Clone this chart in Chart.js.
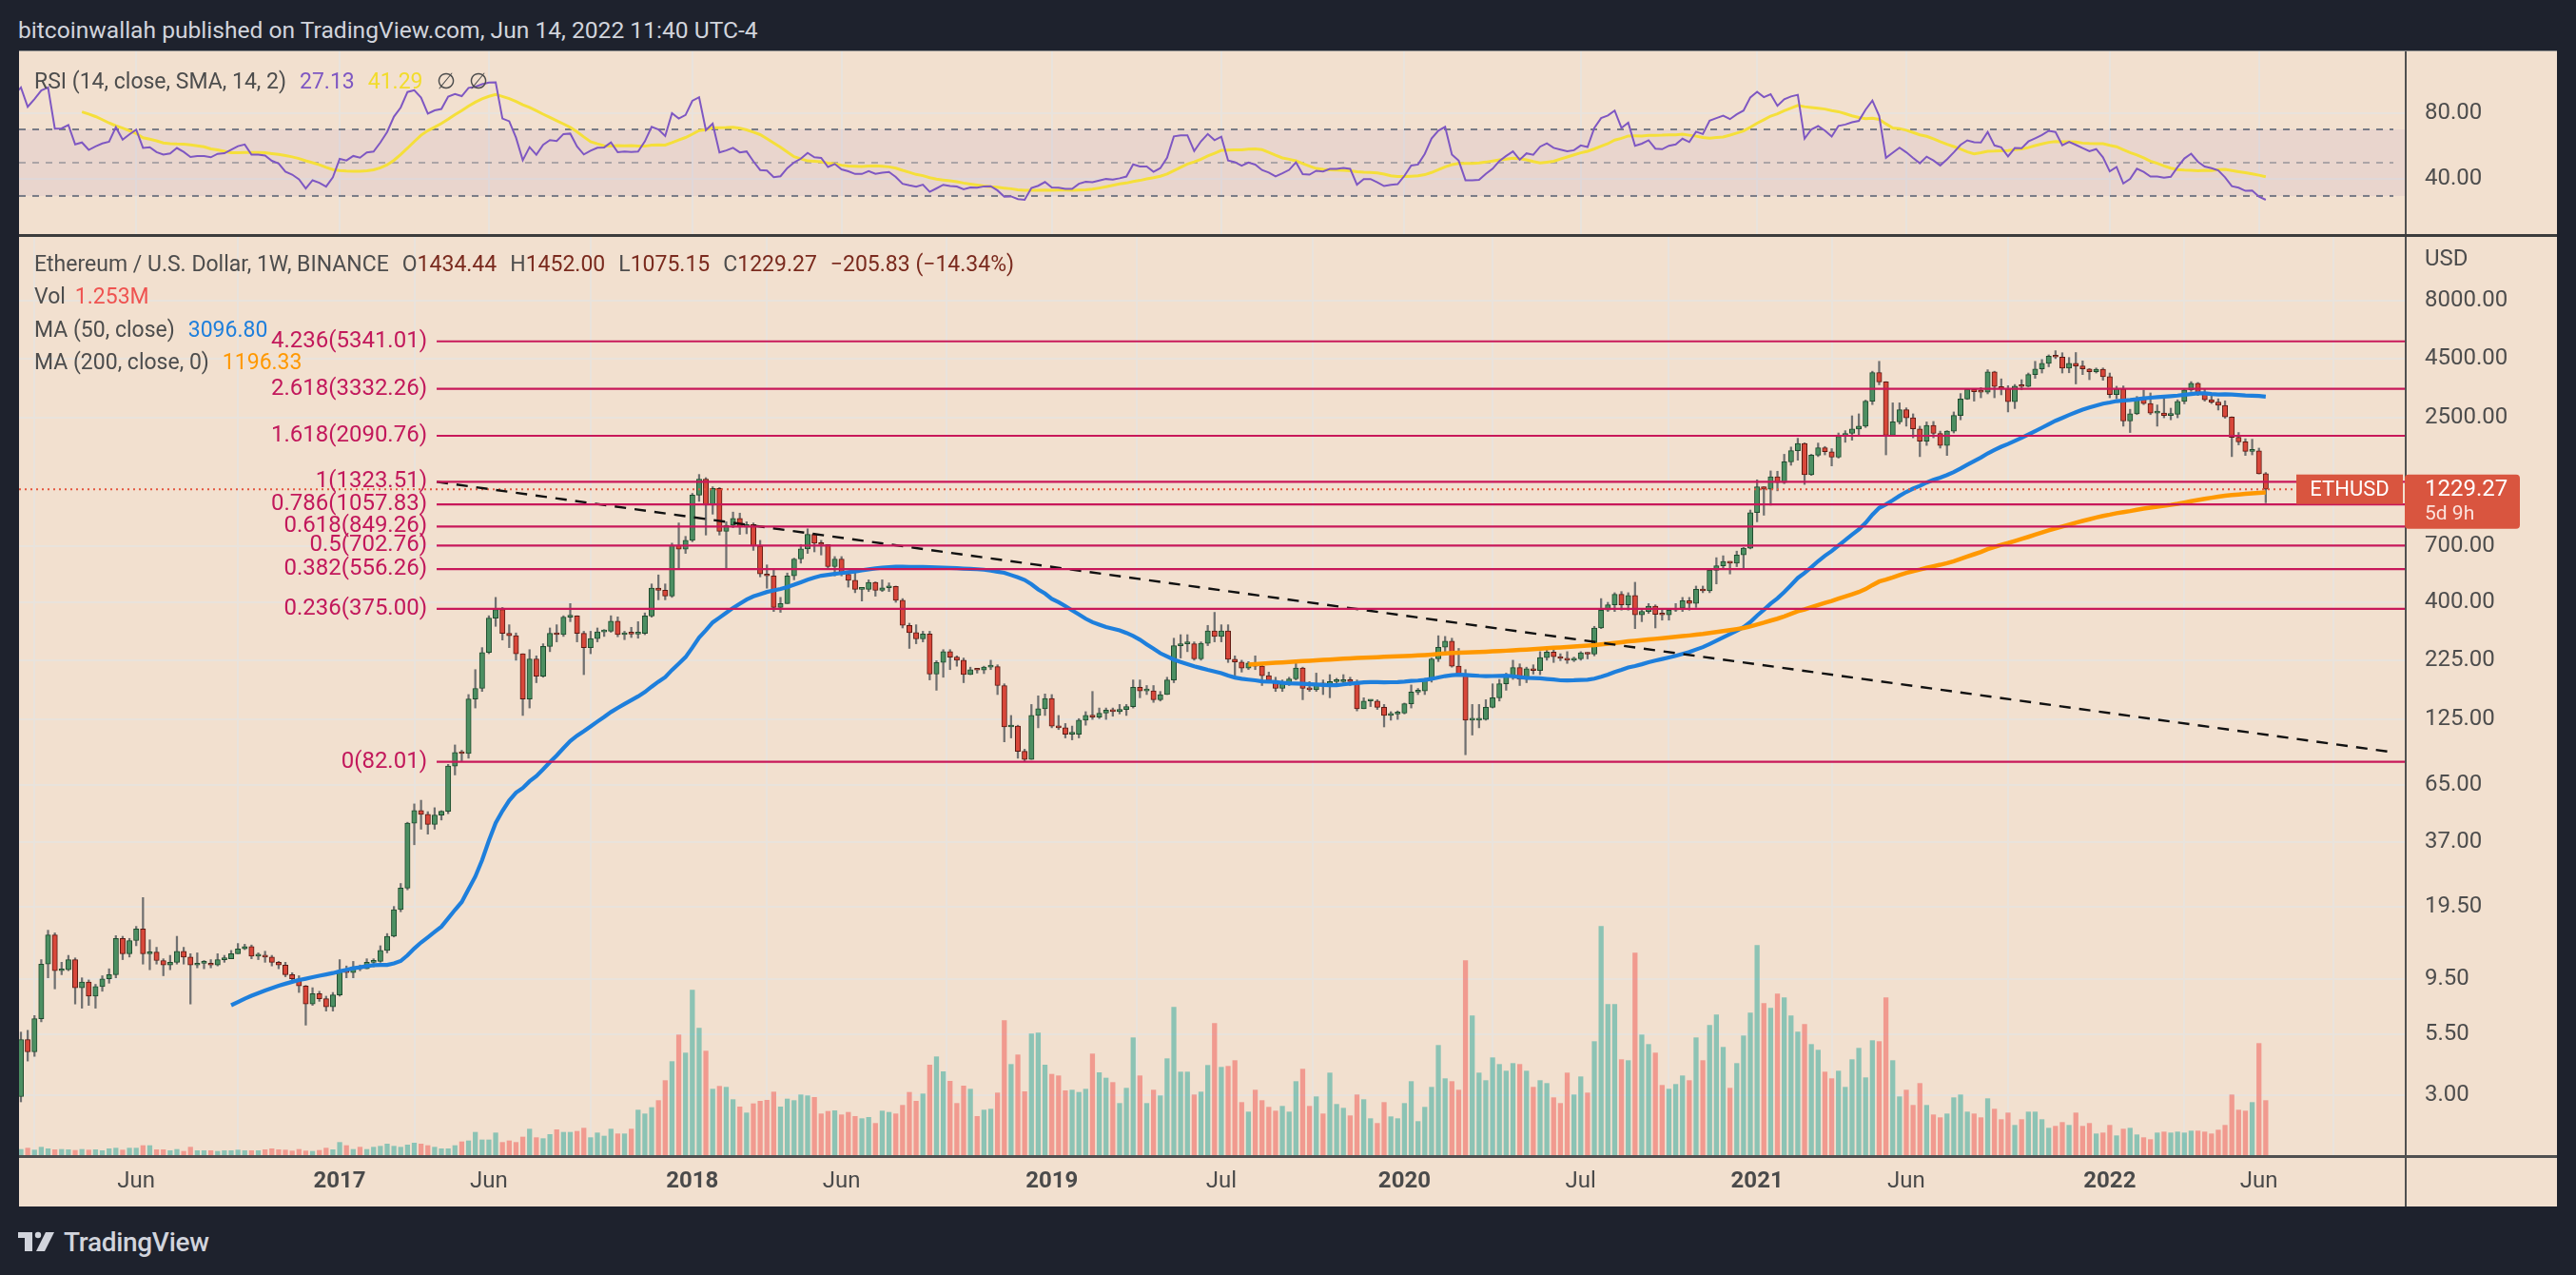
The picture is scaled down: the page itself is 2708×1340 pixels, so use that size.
<!DOCTYPE html>
<html>
<head>
<meta charset="utf-8">
<script src="https://cdn.jsdelivr.net/npm/chart.js@4.4.0/dist/chart.umd.min.js"></script>
<style>
html,body{margin:0;padding:0;background:#1e222d;width:2708px;height:1340px;overflow:hidden;font-family:Roboto,"Noto Sans",sans-serif;}
#title{position:absolute;left:19px;top:16px;height:32px;line-height:32px;color:#d1d4dc;font-size:24.6px;white-space:nowrap;}
#rsiWrap{position:absolute;left:20px;top:54px;width:2668px;height:192px;background:#f2e0cf;}
#topline{position:absolute;left:20px;top:53px;width:2668px;height:1px;background:#8c8c8c;}
#sep{position:absolute;left:20px;top:246px;width:2668px;height:3px;background:#3c3c3c;}
#mainWrap{position:absolute;left:20px;top:249px;width:2668px;height:1019px;background:#f2e0cf;}
#footer{position:absolute;left:19px;top:1290px;height:30px;display:flex;align-items:center;color:#d1d4dc;}
#footer span{font-size:28px;font-weight:500;margin-left:8px;letter-spacing:-0.3px;}
canvas{display:block;}
</style>
</head>
<body>
<div id="title">bitcoinwallah published on TradingView.com, Jun 14, 2022 11:40 UTC-4</div>
<div id="topline"></div>
<div id="rsiWrap"><canvas id="rsi"></canvas></div>
<div id="sep"></div>
<div id="mainWrap"><canvas id="main"></canvas></div>
<div id="footer">
<svg width="40" height="22" viewBox="0 0 40 22"><rect x="0" y="1" width="15" height="6" fill="#d1d4dc"/><rect x="7" y="1" width="8" height="20" fill="#d1d4dc"/><circle cx="21" cy="4" r="3.2" fill="#d1d4dc"/><polygon points="29,1 38,1 28,21 19,21" fill="#d1d4dc"/></svg>
<span>TradingView</span>
</div>
<script>
// ---------------- DATA (weekly ETH/USD, week index 0 = week of 8 Feb 2016) ----------------
const firstWeek = -18;          // data starts week of 5 Oct 2015
const firstOpen = 0.65;
const closes = [
0.62,0.55,0.56,1.00,0.93,0.90,0.95,0.87,0.83,0.86,0.86,0.85,0.94,0.96,1.23,1.55,2.30,2.95,
5.2,4.6,6.4,11.0,14.7,10.3,10.4,11.5,8.7,9.2,
8.0,8.8,9.5,9.9,14.2,12.2,13.9,15.6,12.2,12.4,
11.4,10.9,11.2,12.5,11.8,10.9,11.1,11.1,10.9,11.5,
11.6,12.2,12.8,13.1,11.9,11.9,11.8,11.2,10.9,9.9,
9.5,8.85,7.4,8.2,7.8,7.2,8.1,10.3,10.1,10.7,
10.5,11.2,11.3,12.6,14.5,18.9,23.4,44.6,50.6,48.7,
44.1,48.3,50.2,78.6,90,89,153,170,243,342,
372,294,287,240,153,228,192,258,294,290,
345,349,294,255,279,298,300,332,290,294,
292,294,349,461,451,426,705,678,740,1160,
1360,1050,1240,810,860,920,845,865,700,530,
520,380,395,520,615,680,785,720,710,570,
615,528,498,455,455,487,450,462,468,408,
318,296,278,292,196,220,245,232,225,195,
205,204,210,211,175,116,117,91,84,130,
139,154,117,115,108,108,124,130,128,133,
137,135,138,142,172,166,166,152,160,185,
260,265,265,228,266,301,285,301,227,221,
208,219,212,193,184,170,178,187,208,170,
168,178,176,182,182,184,182,139,150,150,
141,130,132,133,146,164,166,187,228,256,
272,212,195,124,124,125,141,155,178,194,
209,186,207,203,231,244,233,229,225,228,
242,239,310,370,390,433,390,428,353,365,
385,355,353,370,377,406,396,455,448,550,
575,600,590,640,685,975,1260,1230,1390,1315,
1615,1805,1935,1420,1725,1855,1785,1690,2080,2140,
2235,2300,2950,3920,3570,2100,2400,2710,2500,2240,
1980,2320,2140,1900,2190,2560,3010,3310,3240,3225,
3940,3410,3330,2930,3420,3410,3840,4060,4290,4610,
4570,4090,4290,4180,4060,3950,4050,3760,3150,3330,
2420,2600,3050,2880,2620,2620,2560,2590,2940,3300,
3520,3200,2990,2920,2830,2520,2060,1970,1790,1800,1434.44,1229.27
];
const highs = [
0.68,0.64,0.60,1.05,1.10,0.98,0.99,0.96,0.88,0.90,0.90,0.89,0.96,1.00,1.30,1.65,2.60,3.00,
5.6,5.7,6.6,11.5,15.4,15.0,11.2,12.0,11.7,9.6,
9.4,9.0,9.8,10.5,14.6,14.5,14.2,16.0,21.3,14.0,
13.0,11.6,12.0,14.5,13.0,12.2,12.3,11.4,11.5,12.2,
12.0,12.6,13.5,13.4,13.3,12.3,12.5,12.0,11.3,11.2,
10.1,9.8,8.9,8.7,8.4,8.0,8.3,11.5,10.8,11.3,
10.9,11.6,11.6,13.2,14.9,19.5,24.5,45,54,56,
50,52,50.5,80,97,92,160,205,255,350,
420,380,320,295,240,250,235,265,310,320,
350,395,350,300,300,310,305,350,346,300,
312,330,360,480,525,480,720,880,770,1180,
1424,1380,1260,1250,890,980,970,890,880,740,
580,560,420,535,620,710,830,790,740,710,
630,630,530,540,460,500,490,500,485,470,
415,325,320,300,300,224,250,250,235,230,
210,207,212,225,215,178,130,118,93,145,
158,161,160,130,120,117,126,135,165,140,
140,140,145,145,185,185,175,175,165,190,
280,290,290,270,270,318,362,320,320,235,
225,222,235,215,200,190,185,190,225,210,
182,198,185,195,188,195,190,185,155,152,
152,145,135,136,147,176,170,188,230,287,
285,280,253,205,145,145,152,178,186,198,
225,217,210,215,245,252,250,240,245,232,
245,243,315,415,400,440,445,440,488,375,
395,390,370,372,395,420,420,470,470,560,
623,635,600,665,690,1000,1350,1260,1475,1470,
1740,1870,2040,1950,1740,1945,1880,1840,2150,2200,
2550,2600,2980,3970,4380,3580,2900,2900,2760,2600,
2300,2400,2410,2190,2200,2650,3180,3330,3335,3375,
4030,3970,3680,3440,3480,3650,3900,4380,4460,4670,
4868,4770,4550,4780,4400,4080,4100,4100,3900,3420,
3430,2720,3090,3290,3200,2840,3040,2750,2990,3320,
3580,3550,3310,3170,3020,2960,2525,2160,2030,2020,1850,1452
];
const lows = [
0.60,0.52,0.42,0.55,0.85,0.86,0.88,0.85,0.80,0.82,0.83,0.82,0.83,0.93,0.95,1.20,1.50,2.15,
2.8,4.2,4.4,6.2,9.6,8.6,9.9,10.3,7.4,7.1,
7.3,7.1,8.4,9.1,9.6,11.5,11.8,13.2,11.0,10.4,
11.0,9.8,10.4,11.0,11.0,7.4,10.6,10.5,10.6,10.8,
11.2,11.6,12.2,12.7,11.6,11.5,11.2,10.8,10.5,9.7,
9.2,8.3,6.0,7.3,7.6,6.9,6.9,8.0,9.6,9.6,
10.3,10.5,10.7,11.2,12.3,14.4,18.5,23,36,42,
40,42,46,49,72,82,85,140,165,240,
315,275,255,225,130,140,180,190,245,270,
285,330,270,195,240,270,285,297,284,276,
282,280,290,345,410,410,420,560,650,730,
1090,780,960,780,555,840,785,790,670,515,
460,365,362,395,500,590,650,660,640,560,
520,520,465,440,405,445,425,445,445,400,
310,253,265,270,185,167,190,205,212,180,
195,198,197,205,160,100,104,85,82,84,
115,130,115,113,104,102,104,118,125,126,
125,129,132,130,140,155,160,148,150,160,
180,230,245,225,225,260,270,270,220,190,
200,205,205,175,180,165,165,175,185,152,
165,165,160,155,176,180,175,136,140,142,
138,116,124,125,132,140,160,160,181,222,
240,210,192,88,107,115,124,140,150,167,
186,175,180,196,195,225,220,224,218,222,
225,228,235,308,365,365,370,370,308,330,
358,310,335,335,365,365,370,380,440,440,
480,560,530,570,560,680,890,950,1050,1210,
1300,1560,1640,1290,1410,1700,1730,1550,1675,1960,
2000,2100,2270,2850,3470,1730,2160,2350,2300,2050,
1700,1900,2050,1850,1720,2150,2450,3000,2950,3050,
3170,3050,3140,2650,2740,3300,3400,3700,3900,4150,
4500,3900,3910,3500,3840,3650,3900,3630,3050,3020,
2300,2160,2580,2850,2580,2300,2500,2450,2500,2870,
3250,3120,2950,2880,2700,2490,1700,1910,1720,1730,1430,1075.15
];
// relative weekly volume (read as bar heights), week 0 .. 331
const volumes = [
18,22,16,25,20,17,18,17,15,18,
16,17,14,20,22,16,22,22,30,30,
17,17,14,18,12,25,14,14,14,12,
14,14,16,14,14,14,17,20,17,16,
13,18,13,12,15,22,17,40,30,18,
25,18,25,28,35,28,25,32,38,35,
30,25,20,20,30,42,45,72,48,48,
70,40,45,40,57,82,55,52,65,80,
72,72,75,85,55,70,60,82,67,67,
82,142,130,150,172,235,295,379,322,520,
400,328,208,217,214,175,152,133,162,170,
173,199,152,177,172,190,187,182,130,138,
140,127,135,122,115,119,100,139,135,130,
157,198,170,193,284,310,263,233,163,218,
208,122,142,145,196,424,286,316,200,382,
385,284,255,250,203,205,198,208,319,260,
243,229,163,211,370,250,163,205,187,304,
466,262,262,190,199,283,415,277,280,298,
166,136,205,172,151,139,154,136,232,271,
154,184,130,259,160,148,124,190,175,115,
100,166,121,115,163,232,106,151,214,346,
241,232,205,613,439,259,235,307,286,265,
289,286,265,214,235,226,181,163,259,190,
247,196,358,721,475,475,301,298,637,379,
349,322,220,208,223,250,235,370,298,409,
442,340,211,289,376,448,661,478,463,508,
496,439,388,412,349,331,262,241,265,214,
301,337,244,361,358,496,298,184,205,157,
226,157,127,118,130,181,190,136,130,118,
178,145,112,133,94,112,136,136,112,85,
91,103,94,133,91,100,67,70,94,61,
82,85,64,55,49,70,73,70,73,70,
76,76,73,67,79,94,190,142,139,166,352,172
];
const tickWeeks  = [17,47,69,99,121,152,177,204,230,256,278,308,330];
const tickLabels = ['Jun','2017','Jun','2018','Jun','2019','Jul','2020','Jul','2021','Jun','2022','Jun'];
const priceTicks = [3,5.5,9.5,19.5,37,65,125,225,400,700,2500,4500,8000];
const rsiTicks = [40,80];
const rsiLevels = [30,50,70];
const fibRatios = [0,0.236,0.382,0.5,0.618,0.786,1,1.618,2.618,4.236];
const fibPrices = [82.01,375.00,556.26,702.76,849.26,1057.83,1323.51,2090.76,3332.26,5341.01];
const fibStartWeek = 61.3;
const trendWeeks = [61.3, 350];
const trendPrices = [1323.51, 90];
const lastPrice = 1229.27;
const legendOHLC = {O:'1434.44', H:'1452.00', L:'1075.15', C:'1229.27', chg:'\u2212205.83 (\u221214.34%)'};
const legendVol = '1.253M';
const legendMA50 = '3096.80';
const legendMA200 = '1196.33';
const legendRSI = '27.13';
const legendRSIMA = '41.29';

// ---------------- view settings ----------------
const X_MIN = -0.28, X_MAX = 351.5;
const Y_MIN = 1.65, Y_MAX = 15070;
const RSI_MIN = 7.1, RSI_MAX = 116.9;
const VOL_MAX = 2895;
const AXIS_W = 160;
const FONT = 'Roboto, "Noto Sans", sans-serif';

// ---------------- derived series ----------------
const N = closes.length;
const weeks = closes.map((_, i) => i + firstWeek);
const opens = closes.map((c, i) => i === 0 ? firstOpen : closes[i - 1]);
function sma(arr, n) {
  return arr.map((_, i) => {
    if (i < n - 1) return null;
    let s = 0;
    for (let j = i - n + 1; j <= i; j++) { if (arr[j] == null) return null; s += arr[j]; }
    return s / n;
  });
}
function rsiCalc(c, n) {
  const out = new Array(c.length).fill(null);
  let au = 0, ad = 0;
  for (let i = 1; i < c.length; i++) {
    const ch = c[i] - c[i - 1];
    const u = Math.max(ch, 0), d = Math.max(-ch, 0);
    if (i <= n) {
      au += u; ad += d;
      if (i === n) { au /= n; ad /= n; out[i] = ad === 0 ? 100 : 100 - 100 / (1 + au / ad); }
    } else {
      au = (au * (n - 1) + u) / n; ad = (ad * (n - 1) + d) / n;
      out[i] = ad === 0 ? 100 : 100 - 100 / (1 + au / ad);
    }
  }
  return out;
}
const ma50 = sma(closes, 50);
const ma200 = sma(closes, 200);
const rsi = rsiCalc(closes, 14);
const rsiMa = sma(rsi, 14);

const bodies = [], wicks = [], bodyFill = [], bodyBorder = [], vols = [], volColors = [];
for (let i = 0; i < N; i++) {
  const k = weeks[i];
  if (k < 0) continue;
  const o = opens[i], c = closes[i];
  const h = Math.max(highs[i], o, c), l = Math.min(lows[i], o, c);
  const up = c >= o;
  bodies.push({x: k, y: [o, c]});
  wicks.push({x: k, y: [l, h]});
  bodyFill.push(up ? '#4c8f62' : '#d8473a');
  bodyBorder.push(up ? '#1e4b2d' : '#5c1a12');
  vols.push({x: k, y: volumes[k]});
  volColors.push(up ? 'rgba(38,166,154,0.5)' : 'rgba(239,83,80,0.5)');
}
const toXY = arr => arr.map((v, i) => ({x: weeks[i], y: v})).filter(p => p.y != null);

const gridColor = '#e9e3dc';
function xScale(showLabels) {
  return {
    type: 'linear', min: X_MIN, max: X_MAX, offset: false, bounds: 'data',
    afterBuildTicks: s => { s.ticks = tickWeeks.map(v => ({value: v})); },
    afterFit: s => { s.height = showLabels ? 54 : 0; },
    ticks: {
      display: showLabels, autoSkip: false, maxRotation: 0, padding: 14,
      callback: (v, i) => tickLabels[i],
      color: '#4a4a4a',
      font: ctx => ({family: FONT, size: 24, weight: /^\d/.test(tickLabels[ctx.index] || '') ? 'bold' : 'normal'})
    },
    grid: {color: gridColor, lineWidth: 2, drawTicks: false},
    border: {display: false}
  };
}
function yAxisLabels(ctx, a, scale, values) {
  ctx.save();
  ctx.textAlign = 'left'; ctx.textBaseline = 'middle';
  ctx.fillStyle = '#4d4d4d'; ctx.font = `24px ${FONT}`;
  values.forEach(v => ctx.fillText(v.toFixed(2), a.right + 21, scale.getPixelForValue(v)));
  ctx.restore();
}

// ---------------- MAIN CHART ----------------
const datasets = [
  {type: 'bar', label: 'vol', data: vols, yAxisID: 'vol', backgroundColor: volColors, barThickness: 4.6, grouped: false, order: 6},
  {type: 'bar', label: 'wick', data: wicks, yAxisID: 'y', backgroundColor: '#707070', barThickness: 1.6, grouped: false, order: 5},
  {type: 'bar', label: 'body', data: bodies, yAxisID: 'y', backgroundColor: bodyFill, borderColor: bodyBorder, borderWidth: 1, borderSkipped: false, barThickness: 5.4, minBarLength: 2, grouped: false, order: 4},
  {type: 'line', label: 'MA200', data: toXY(ma200), yAxisID: 'y', borderColor: '#ff9800', borderWidth: 4.5, pointRadius: 0, tension: 0, order: 3},
  {type: 'line', label: 'MA50', data: toXY(ma50), yAxisID: 'y', borderColor: '#1e7fdc', borderWidth: 4.2, pointRadius: 0, tension: 0, order: 3},
];
fibPrices.forEach(p => datasets.push({type: 'line', data: [{x: fibStartWeek, y: p}, {x: X_MAX, y: p}], yAxisID: 'y', borderColor: '#c8185a', borderWidth: 2.2, pointRadius: 0, order: 1}));
datasets.push({type: 'line', data: trendWeeks.map((w, i) => ({x: w, y: trendPrices[i]})), yAxisID: 'y', borderColor: '#111111', borderWidth: 2.4, borderDash: [12, 9], pointRadius: 0, order: 1});
datasets.push({type: 'line', data: [{x: X_MIN, y: lastPrice}, {x: 335.4, y: lastPrice}], yAxisID: 'y', borderColor: '#e4553f', borderWidth: 2, borderDash: [2, 4], pointRadius: 0, order: 1});

function drawSegments(ctx, x, y, segs, gap) {
  segs.forEach(([t, col]) => {
    if (t === ' ') { x += gap; return; }
    ctx.fillStyle = col; ctx.fillText(t, x, y); x += ctx.measureText(t).width;
  });
  return x;
}
function roundRect(ctx, x, y, w, h, r) {
  ctx.beginPath(); ctx.moveTo(x + r, y); ctx.lineTo(x + w - r, y); ctx.quadraticCurveTo(x + w, y, x + w, y + r);
  ctx.lineTo(x + w, y + h - r); ctx.quadraticCurveTo(x + w, y + h, x + w - r, y + h); ctx.lineTo(x + r, y + h);
  ctx.quadraticCurveTo(x, y + h, x, y + h - r); ctx.lineTo(x, y + r); ctx.quadraticCurveTo(x, y, x + r, y); ctx.closePath();
}

const mainOverlay = {
  id: 'mainOverlay',
  afterDraw(chart) {
    const {ctx, chartArea: a, scales: {x, y}} = chart;
    yAxisLabels(ctx, a, y, priceTicks);
    ctx.save();
    // legend
    ctx.textBaseline = 'middle'; ctx.textAlign = 'left';
    ctx.font = `23px ${FONT}`;
    const g = '#4d4d4d', dr = '#7a2a1e';
    drawSegments(ctx, 16, 30, [['Ethereum / U.S. Dollar, 1W, BINANCE', g], [' '], ['O', g], [legendOHLC.O, dr], [' '], ['H', g], [legendOHLC.H, dr], [' '], ['L', g], [legendOHLC.L, dr], [' '], ['C', g], [legendOHLC.C, dr], [' '], [legendOHLC.chg, dr]], 14);
    drawSegments(ctx, 16, 64, [['Vol', g], [' '], [legendVol, '#ef5350']], 10);
    drawSegments(ctx, 16, 99, [['MA (50, close)', g], [' '], [legendMA50, '#1e7fdc']], 14);
    drawSegments(ctx, 16, 133, [['MA (200, close, 0)', g], [' '], [legendMA200, '#ff9800']], 14);
    // fib labels
    ctx.font = `24px ${FONT}`; ctx.fillStyle = '#c2185b'; ctx.textAlign = 'right';
    const lx = x.getPixelForValue(fibStartWeek) - 10;
    fibRatios.forEach((r, i) => ctx.fillText(`${r}(${fibPrices[i].toFixed(2)})`, lx, y.getPixelForValue(fibPrices[i])));
    // separators
    ctx.strokeStyle = '#505050'; ctx.lineWidth = 2;
    ctx.beginPath(); ctx.moveTo(a.right + 1, 0); ctx.lineTo(a.right + 1, chart.height); ctx.stroke();
    ctx.lineWidth = 3;
    ctx.beginPath(); ctx.moveTo(0, a.bottom + 1.5); ctx.lineTo(chart.width, a.bottom + 1.5); ctx.stroke();
    // USD
    ctx.textAlign = 'left'; ctx.fillStyle = '#4d4d4d'; ctx.font = `24px ${FONT}`;
    ctx.fillText('USD', a.right + 21, 24);
    // price labels
    const py = y.getPixelForValue(lastPrice);
    ctx.fillStyle = '#d9553f';
    ctx.fillRect(a.right - 114, py - 15.5, 112, 31);
    roundRect(ctx, a.right, py - 15.5, 121, 57, 4); ctx.fill();
    ctx.fillStyle = '#ffffff'; ctx.textAlign = 'center'; ctx.font = `22px ${FONT}`;
    ctx.fillText('ETHUSD', a.right - 58, py + 1);
    ctx.textAlign = 'left'; ctx.font = `24px ${FONT}`;
    ctx.fillText('1229.27', a.right + 21, py + 1);
    ctx.font = `21px ${FONT}`; ctx.fillStyle = '#fbe3dd';
    ctx.fillText('5d 9h', a.right + 21, py + 27);
    ctx.restore();
  }
};

new Chart(document.getElementById('main'), {
  data: {datasets},
  options: {
    responsive: true, maintainAspectRatio: false, animation: false, devicePixelRatio: 1, events: [],
    layout: {padding: 0},
    plugins: {legend: {display: false}, tooltip: {enabled: false}},
    scales: {
      x: xScale(true),
      y: {
        type: 'logarithmic', position: 'right', min: Y_MIN, max: Y_MAX, bounds: 'data',
        afterBuildTicks: s => { s.ticks = priceTicks.map(v => ({value: v})); },
        afterFit: s => { s.width = AXIS_W; },
        ticks: {display: false, autoSkip: false},
        grid: {color: gridColor, lineWidth: 2, drawTicks: false},
        border: {display: false}
      },
      vol: {type: 'linear', display: false, min: 0, max: VOL_MAX}
    }
  },
  plugins: [mainOverlay]
});

// ---------------- RSI CHART ----------------
const rsiOverlay = {
  id: 'rsiOverlay',
  beforeDatasetsDraw(chart) {
    const {ctx, chartArea: a, scales: {y}} = chart;
    ctx.save();
    ctx.fillStyle = 'rgba(126,87,194,0.08)';
    const t = y.getPixelForValue(rsiLevels[2]), b = y.getPixelForValue(rsiLevels[0]);
    ctx.fillRect(a.left, t, a.right - a.left, b - t);
    ctx.setLineDash([7, 7]); ctx.lineWidth = 2;
    rsiLevels.forEach((lv, i) => {
      ctx.strokeStyle = i === 1 ? 'rgba(120,123,134,0.55)' : '#787b86';
      const yy = y.getPixelForValue(lv);
      ctx.beginPath(); ctx.moveTo(a.left, yy); ctx.lineTo(a.right - 12, yy); ctx.stroke();
    });
    ctx.restore();
  },
  afterDraw(chart) {
    const {ctx, chartArea: a, scales: {y}} = chart;
    yAxisLabels(ctx, a, y, rsiTicks);
    ctx.save();
    ctx.strokeStyle = '#505050'; ctx.lineWidth = 2;
    ctx.beginPath(); ctx.moveTo(a.right + 1, 0); ctx.lineTo(a.right + 1, chart.height); ctx.stroke();
    ctx.textBaseline = 'middle'; ctx.textAlign = 'left'; ctx.font = `23px ${FONT}`;
    drawSegments(ctx, 16, 33, [['RSI (14, close, SMA, 14, 2)', '#4d4d4d'], [' '], [legendRSI, '#7e57c2'], [' '], [legendRSIMA, '#f2dc2c'], [' '], ['\u2205', '#4d4d4d'], [' '], ['\u2205', '#4d4d4d']], 14);
    ctx.restore();
  }
};

new Chart(document.getElementById('rsi'), {
  data: {datasets: [
    {type: 'line', data: toXY(rsiMa), borderColor: '#f5df3a', borderWidth: 3, pointRadius: 0, tension: 0, order: 2},
    {type: 'line', data: toXY(rsi), borderColor: '#7e57c2', borderWidth: 2, pointRadius: 0, tension: 0, order: 1}
  ]},
  options: {
    responsive: true, maintainAspectRatio: false, animation: false, devicePixelRatio: 1, events: [],
    layout: {padding: 0},
    plugins: {legend: {display: false}, tooltip: {enabled: false}},
    scales: {
      x: xScale(false),
      y: {
        type: 'linear', position: 'right', min: RSI_MIN, max: RSI_MAX, bounds: 'data',
        afterBuildTicks: s => { s.ticks = rsiTicks.map(v => ({value: v})); },
        afterFit: s => { s.width = AXIS_W; },
        ticks: {display: false, autoSkip: false},
        grid: {color: gridColor, lineWidth: 2, drawTicks: false},
        border: {display: false}
      }
    }
  },
  plugins: [rsiOverlay]
});
</script>
</body>
</html>
